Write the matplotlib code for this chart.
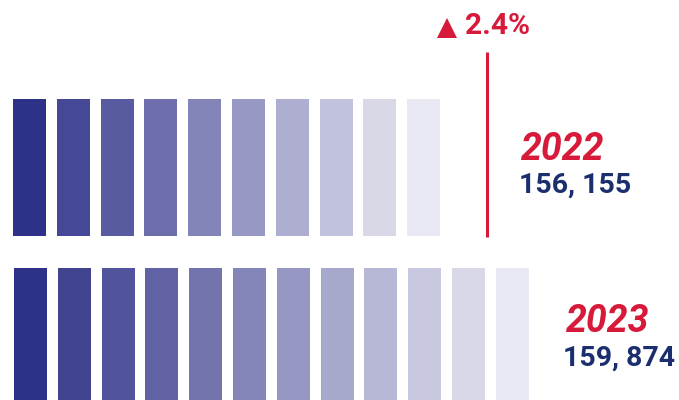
import matplotlib.pyplot as plt
import numpy as np

# Data
years = ["2022", "2023"]
totals = ["156, 155", "159, 874"]
n_bars = [10, 12]
change = "2.4%"

colors_2022 = ["#2E3188", "#454896", "#585BA0", "#6D6EAB", "#8384B8",
               "#9798C4", "#ADAED0", "#C1C2DD", "#D8D8E7", "#E9E9F3"]
colors_2023 = ["#2E3188", "#40448F", "#51549C", "#6263A5", "#7374AE", "#8485B8",
               "#9596C3", "#A6A8CC", "#B7B8D6", "#C8C9E0", "#D9D8E9", "#E9E9F3"]

red = "#D7193A"
navy = "#1B2F6E"

fig = plt.figure(figsize=(6.79, 4.0), dpi=100)
ax = fig.add_axes([0, 0, 1, 1])
ax.set_xlim(0, 679)
ax.set_ylim(400, 0)
ax.axis("off")

pitch = 43.8
width = 33

# 2022 row
x1 = 13 + np.arange(n_bars[0]) * pitch
ax.bar(x1, 137, width=width, bottom=99, color=colors_2022, align="edge")

# 2023 row
x2 = 14 + np.arange(n_bars[1]) * pitch
ax.bar(x2, 140, width=width, bottom=268, color=colors_2023, align="edge")

# change marker
ax.plot([487, 487], [52, 237], color=red, lw=2.2, solid_capstyle="butt")
ax.plot([447], [27.5], marker="^", markersize=15, color=red, markeredgewidth=0)
ax.text(465, 26, change, color=red, fontsize=21.5, family="Roboto",
        fontweight="semibold", va="center", ha="left")

# labels
ax.text(521, 150, years[0], color=red, fontsize=27, family="Roboto",
        fontweight="bold", style="italic", va="center", ha="left")
ax.text(519, 185, totals[0], color=navy, fontsize=20.5, family="Roboto",
        fontweight="semibold", va="center", ha="left")
ax.text(566, 321, years[1], color=red, fontsize=27, family="Roboto",
        fontweight="bold", style="italic", va="center", ha="left")
ax.text(563, 358, totals[1], color=navy, fontsize=20.5, family="Roboto",
        fontweight="semibold", va="center", ha="left")

fig.savefig("out.png", dpi=100)
